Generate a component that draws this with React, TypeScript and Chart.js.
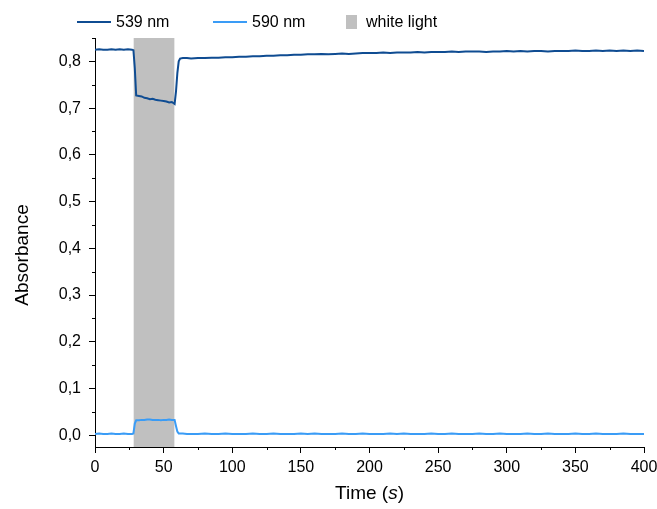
import React, { useEffect, useRef } from "react";
import { Chart, registerables } from "chart.js";

Chart.register(...registerables);

// ---- data ----
const timeS = [
  0, 3, 6, 9, 12, 15, 18, 21, 24, 27,
  28, 29, 30,
  32, 34, 36, 38, 40, 42, 44, 46, 48, 50, 52, 54, 56,
  57, 58, 59, 60, 61, 62,
  64, 67,
  70, 75, 80, 85, 90, 95, 100, 105, 110, 115,
  120, 125, 130, 135, 140, 145, 150, 155, 160, 165,
  170, 175, 180, 185, 190, 195, 200, 205, 210, 215,
  220, 225, 230, 235, 240, 245, 250, 255, 260, 265,
  270, 275, 280, 285, 290, 295, 300, 305, 310, 315,
  320, 325, 330, 335, 340, 345, 350, 355, 360, 365,
  370, 375, 380, 385, 390, 395, 400,
];

const abs539 = [
  0.825, 0.826, 0.825, 0.825, 0.826, 0.825, 0.826, 0.825, 0.826, 0.825,
  0.824, 0.785, 0.727,
  0.726, 0.725, 0.722, 0.721, 0.719, 0.72, 0.718, 0.717, 0.716, 0.715, 0.714, 0.712, 0.713,
  0.711, 0.709, 0.735, 0.775, 0.8, 0.806,
  0.807, 0.807,
  0.806, 0.807, 0.807, 0.808, 0.808, 0.809, 0.809, 0.81, 0.81, 0.811,
  0.811, 0.812, 0.812, 0.813, 0.813, 0.814, 0.814, 0.815, 0.815, 0.816,
  0.815, 0.816, 0.817, 0.816, 0.817, 0.818, 0.818, 0.818, 0.819, 0.818,
  0.819, 0.819, 0.819, 0.82, 0.819, 0.82, 0.82, 0.82, 0.821, 0.82,
  0.821, 0.821, 0.821, 0.82, 0.821, 0.821, 0.822, 0.821, 0.822, 0.821,
  0.822, 0.822, 0.821, 0.822, 0.822, 0.822, 0.823, 0.822, 0.822, 0.823,
  0.822, 0.823, 0.822, 0.823, 0.822, 0.823, 0.822,
];

const abs590 = [
  0.003, 0.004, 0.003, 0.003, 0.004, 0.003, 0.003, 0.004, 0.003, 0.003,
  0.004, 0.025, 0.032,
  0.032, 0.033, 0.033, 0.034, 0.034, 0.033, 0.033, 0.033, 0.032, 0.033, 0.033, 0.034, 0.033,
  0.033, 0.033, 0.02, 0.008, 0.004, 0.004,
  0.004, 0.003,
  0.003, 0.003, 0.004, 0.003, 0.003, 0.004, 0.003, 0.003, 0.003, 0.004,
  0.003, 0.003, 0.004, 0.003, 0.003, 0.003, 0.004, 0.003, 0.004, 0.003,
  0.003, 0.003, 0.004, 0.003, 0.003, 0.004, 0.003, 0.003, 0.003, 0.004,
  0.003, 0.004, 0.003, 0.003, 0.003, 0.004, 0.003, 0.003, 0.004, 0.003,
  0.003, 0.003, 0.004, 0.003, 0.003, 0.004, 0.003, 0.003, 0.003, 0.004,
  0.003, 0.003, 0.004, 0.003, 0.003, 0.003, 0.004, 0.003, 0.003, 0.004,
  0.003, 0.003, 0.003, 0.004, 0.003, 0.003, 0.003,
];

const lightStart = 28;
const lightEnd = 58;

const xMin = 0;
const xMax = 400;
const xStep = 50;
const yMin = -0.025;
const yMax = 0.85;
const yStep = 0.1;
const xMinorTicks = [25, 75, 125, 175, 225, 275, 325, 375];
const yMinorTicks = [0.05, 0.15, 0.25, 0.35, 0.45, 0.55, 0.65, 0.75, 0.85];

const seriesLabels = ["539 nm", "590 nm"];
const bandLabel = "white light";
const xTitleParts = ["Time (", "s", ")"];
const yTitle = "Absorbance";

// ---- styles ----
const FONT = '"Liberation Sans", Arial, Helvetica, sans-serif';
const C539 = "#0f4c92";
const C590 = "#3a9cf6";
const CBAND = "#c0c0c0";

const decorPlugin = {
  id: "decor",
  afterDraw(chart: any) {
    const { ctx, chartArea, scales } = chart;
    const xs = scales.x;
    const ys = scales.y;
    ctx.save();
    // minor ticks
    ctx.strokeStyle = "#000";
    ctx.lineWidth = 1;
    ctx.beginPath();
    xMinorTicks.forEach((v) => {
      const px = Math.round(xs.getPixelForValue(v)) + 0.5;
      ctx.moveTo(px, chartArea.bottom);
      ctx.lineTo(px, chartArea.bottom + 3);
    });
    yMinorTicks.forEach((v) => {
      const py = Math.round(ys.getPixelForValue(v)) + 0.5;
      ctx.moveTo(chartArea.left - 3, py);
      ctx.lineTo(chartArea.left, py);
    });
    ctx.stroke();

    // axis titles
    ctx.fillStyle = "#000";
    ctx.textBaseline = "middle";
    const normal = `19px ${FONT}`;
    const italic = `italic 19px ${FONT}`;
    ctx.font = normal;
    const w0 = ctx.measureText(xTitleParts[0]).width;
    const w2 = ctx.measureText(xTitleParts[2]).width;
    ctx.font = italic;
    const w1 = ctx.measureText(xTitleParts[1]).width;
    const total = w0 + w1 + w2;
    let tx = (chartArea.left + chartArea.right) / 2 - total / 2;
    const ty = 494;
    ctx.textAlign = "left";
    ctx.font = normal;
    ctx.fillText(xTitleParts[0], tx, ty);
    tx += w0;
    ctx.font = italic;
    ctx.fillText(xTitleParts[1], tx, ty);
    tx += w1;
    ctx.font = normal;
    ctx.fillText(xTitleParts[2], tx, ty);

    ctx.save();
    ctx.translate(23, 255);
    ctx.rotate(-Math.PI / 2);
    ctx.textAlign = "center";
    ctx.font = normal;
    ctx.fillText(yTitle, 0, 0);
    ctx.restore();

    // legend
    const ly = 22;
    ctx.font = `16px ${FONT}`;
    ctx.textAlign = "left";
    ctx.textBaseline = "middle";
    const lineItems = [
      { x: 77, color: C539, label: seriesLabels[0] },
      { x: 213, color: C590, label: seriesLabels[1] },
    ];
    lineItems.forEach((it) => {
      ctx.strokeStyle = it.color;
      ctx.lineWidth = 2;
      ctx.beginPath();
      ctx.moveTo(it.x, ly);
      ctx.lineTo(it.x + 34, ly);
      ctx.stroke();
      ctx.fillStyle = "#000";
      ctx.fillText(it.label, it.x + 39, ly + 1);
    });
    ctx.fillStyle = CBAND;
    ctx.fillRect(346, 15, 11, 14);
    ctx.fillStyle = "#000";
    ctx.fillText(bandLabel, 366, ly + 1);

    ctx.restore();
  },
};

export default function App() {
  const canvasRef = useRef<HTMLCanvasElement | null>(null);

  useEffect(() => {
    const canvas = canvasRef.current;
    if (!canvas) return;
    const pts539 = timeS.map((t, i) => ({ x: t, y: abs539[i] }));
    const pts590 = timeS.map((t, i) => ({ x: t, y: abs590[i] }));
    const band = [
      { x: lightStart, y: yMax },
      { x: lightEnd, y: yMax },
    ];
    const chart = new Chart(canvas, {
      type: "line",
      data: {
        datasets: [
          {
            label: seriesLabels[0],
            data: pts539,
            borderColor: C539,
            borderWidth: 2,
            pointRadius: 0,
            tension: 0,
            fill: false,
            order: 1,
          },
          {
            label: seriesLabels[1],
            data: pts590,
            borderColor: C590,
            borderWidth: 2,
            pointRadius: 0,
            tension: 0,
            fill: false,
            order: 2,
          },
          {
            label: bandLabel,
            data: band,
            borderWidth: 0,
            borderColor: "rgba(0,0,0,0)",
            backgroundColor: CBAND,
            pointRadius: 0,
            fill: "start",
            order: 10,
          },
        ],
      },
      options: {
        animation: false,
        responsive: false,
        maintainAspectRatio: false,
        devicePixelRatio: 1,
        layout: { padding: { top: 38, right: 13, left: 0, bottom: 0 } },
        plugins: {
          legend: { display: false },
          tooltip: { enabled: false },
        },
        scales: {
          x: {
            type: "linear",
            min: xMin,
            max: xMax,
            afterFit: (s: any) => {
              s.height = 62;
              s.paddingLeft = 0;
              s.paddingRight = 0;
            },
            ticks: {
              stepSize: xStep,
              padding: 5,
              color: "#000",
              font: { family: FONT, size: 16 },
              maxRotation: 0,
              autoSkip: false,
              includeBounds: false,
            },
            grid: {
              display: true,
              drawOnChartArea: false,
              drawTicks: true,
              tickLength: 6,
              color: "#000",
              lineWidth: 1,
            },
            border: { display: true, color: "#000", width: 1 },
          },
          y: {
            type: "linear",
            min: yMin,
            max: yMax,
            afterFit: (s: any) => {
              s.width = 95;
              s.paddingTop = 0;
              s.paddingBottom = 0;
            },
            ticks: {
              stepSize: yStep,
              padding: 8,
              color: "#000",
              font: { family: FONT, size: 16 },
              includeBounds: false,
              autoSkip: false,
              callback: (v: any) => Number(v).toFixed(1).replace(".", ","),
            },
            grid: {
              display: true,
              drawOnChartArea: false,
              drawTicks: true,
              tickLength: 6,
              color: "#000",
              lineWidth: 1,
            },
            border: { display: true, color: "#000", width: 1 },
          },
        },
      },
      plugins: [decorPlugin],
    });
    return () => chart.destroy();
  }, []);

  return (
    <div style={{ position: "absolute", left: 0, top: 0, width: 657, height: 509, background: "#fff" }}>
      <canvas ref={canvasRef} width={657} height={509} style={{ display: "block" }} />
    </div>
  );
}
